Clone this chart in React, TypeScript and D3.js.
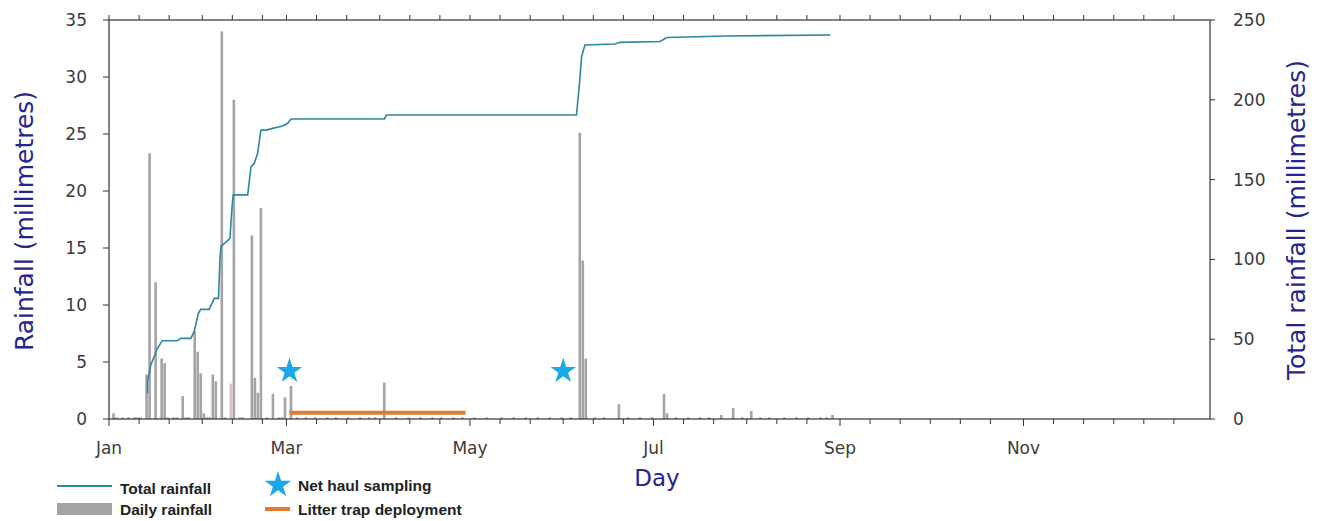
import React from "react";
import * as d3 from "d3";

const W = 1322;
const H = 521;

// Daily rainfall (day of year, mm)
const dailyDays = [1, 12, 13, 15, 17, 18, 24, 28, 29, 30, 31, 34, 35, 37, 41, 47, 48, 49, 50, 54, 58, 60, 91, 156, 157, 158, 169, 184, 185, 203, 207, 213, 240];
const dailyValues = [0.5, 3.9, 23.3, 12.0, 5.3, 4.9, 2.0, 7.7, 5.9, 4.0, 0.5, 3.9, 3.3, 34.0, 28.0, 16.1, 3.6, 2.3, 18.5, 2.2, 1.9, 2.9, 3.2, 25.1, 13.9, 5.3, 1.3, 2.2, 0.5, 0.35, 0.96, 0.7, 0.35];

// Trace rainfall visible along the baseline
const traceDays = [2, 4, 6, 8, 9, 10, 19, 21, 22, 25, 26, 32, 33, 38, 43, 44, 52, 56, 57, 62, 65, 68, 72, 75, 79, 83, 86, 88, 95, 99, 103, 107, 110, 114, 117, 121, 125, 130, 134, 138, 142, 146, 150, 153, 161, 164, 172, 176, 180, 188, 192, 196, 199, 210, 216, 219, 224, 228, 232, 236, 238];
const traceValues = traceDays.map(() => 0.15);

// Odd pink bar
const pinkDays = [40];
const pinkValues = [3.1];

// Cumulative (total) rainfall
const cumulativeDays = [12.8, 12.8, 13.9, 15, 16.1, 17.7, 22.7, 23.9, 27.2, 28.3, 29.7, 30.5, 33.3, 35, 36.4, 36.9, 37.2, 40.2, 40.9, 41.3, 46.1, 47.2, 48.3, 49.4, 50.5, 52.2, 54.4, 57.7, 59.4, 60.5, 91.6, 92.2, 155.4, 156.3, 157.1, 158.2, 168.2, 169.8, 183.2, 185.4, 205.4, 239.8];
const cumulativeValues = [16.1, 23.4, 33.8, 39, 44.3, 49, 49, 50.5, 50.5, 54.7, 66.2, 68.7, 68.7, 75.6, 75.6, 100.7, 108, 113.2, 133, 140.4, 140.4, 158, 160.2, 166.5, 181, 181, 182.1, 183.6, 185.3, 188, 188, 190.5, 190.5, 208, 227, 234.3, 235, 236, 236.5, 239, 240, 240.6];

// Events
const samplingDays = [60, 151];
const samplingLevel = 4.2;
const trapDays = [60, 118.5];
const trapLevel = 0.55;

const monthStarts = [0, 31, 59, 90, 120, 151, 181, 212, 243, 273, 304, 334];
const monthNames = ["Jan", "Feb", "Mar", "Apr", "May", "Jun", "Jul", "Aug", "Sep", "Oct", "Nov", "Dec"];
const leftTicks = [0, 5, 10, 15, 20, 25, 30, 35];
const rightTicks = [0, 50, 100, 150, 200, 250];

const L = 109, R = 1210, T = 20, B = 419;

const NAVY = "#25258f";
const TICKC = "#3c3c3c";
const BAR = "#a4a4a4";
const LINE = "#2c87a0";
const STAR = "#1aa8e6";
const ORANGE = "#e07b30";

export default function App() {
  const x = d3.scaleLinear().domain([0, 366]).range([L, R]);
  const yL = d3.scaleLinear().domain([0, 35]).range([B, T]);
  const yR = d3.scaleLinear().domain([0, 250]).range([B, T]);

  const minorTicks: number[] = [];
  monthStarts.forEach((s) => {
    minorTicks.push(s + 10, s + 20);
  });

  const cumPts = cumulativeDays.map((d, i) => [x(d), yR(cumulativeValues[i])] as [number, number]);
  const linePath = d3.line()(cumPts) || "";
  const star = d3.symbol().type(d3.symbolStar).size(200)() || "";
  const starLegend = d3.symbol().type(d3.symbolStar).size(220)() || "";
  const barW = 2.6;
  const font = "DejaVu Sans, Verdana, sans-serif";
  const legendFont = "Liberation Sans, Arial, sans-serif";

  return (
    <svg width={W} height={H} style={{ position: "absolute", left: 0, top: 0, background: "#fff" }}>
      <rect x={0} y={0} width={W} height={H} fill="#fff" />
      {traceDays.map((d, i) => (
        <rect key={"t" + i} x={x(d + 0.5) - barW / 2} y={yL(traceValues[i])} width={barW} height={B - yL(traceValues[i])} fill={BAR} />
      ))}
      {dailyDays.map((d, i) => (
        <rect key={"b" + i} x={x(d + 0.5) - barW / 2} y={yL(dailyValues[i])} width={barW} height={B - yL(dailyValues[i])} fill={BAR} />
      ))}
      {pinkDays.map((d, i) => (
        <rect key={"p" + i} x={x(d + 0.5) - barW / 2} y={yL(pinkValues[i])} width={barW} height={B - yL(pinkValues[i])} fill="#e6b9c6" />
      ))}
      <line x1={x(trapDays[0])} x2={x(trapDays[1])} y1={yL(trapLevel)} y2={yL(trapLevel)} stroke={ORANGE} strokeWidth={4} />
      <path d={linePath} fill="none" stroke={LINE} strokeWidth={1.6} />
      {samplingDays.map((d, i) => (
        <path key={"s" + i} d={star} transform={`translate(${x(d)},${yL(samplingLevel)})`} fill={STAR} />
      ))}
      <rect x={L} y={T} width={R - L} height={B - T} fill="none" stroke="#333" strokeWidth={1.2} />
      {monthStarts.map((d, i) => (
        <g key={"m" + i}>
          <line x1={x(d)} x2={x(d)} y1={B} y2={B + (i % 2 === 0 ? 7 : 5)} stroke="#333" />
          <line x1={x(d)} x2={x(d)} y1={T} y2={T - 5} stroke="#333" />
          {i % 2 === 0 && (
            <text x={x(d)} y={454} textAnchor="middle" fontFamily={font} fontSize={17} fill={TICKC}>{monthNames[i]}</text>
          )}
        </g>
      ))}
      {minorTicks.map((d, i) => (
        <g key={"mn" + i}>
          <line x1={x(d)} x2={x(d)} y1={B} y2={B + 5} stroke="#333" />
          <line x1={x(d)} x2={x(d)} y1={T} y2={T - 5} stroke="#333" />
        </g>
      ))}
      {leftTicks.map((v) => (
        <g key={"l" + v}>
          <line x1={L - 6} x2={L} y1={yL(v)} y2={yL(v)} stroke="#333" />
          <text x={87} y={yL(v)} dy="0.35em" textAnchor="end" fontFamily={font} fontSize={17} fill={TICKC}>{v}</text>
        </g>
      ))}
      {rightTicks.map((v) => (
        <g key={"r" + v}>
          <line x1={R} x2={R + 5} y1={yR(v)} y2={yR(v)} stroke="#333" />
          <text x={1233} y={yR(v)} dy="0.35em" textAnchor="start" fontFamily={font} fontSize={17} fill={TICKC}>{v}</text>
        </g>
      ))}
      <text transform={`translate(33,221) rotate(-90)`} textAnchor="middle" fontFamily={font} fontSize={25} fill={NAVY}>Rainfall (millimetres)</text>
      <text transform={`translate(1305,220) rotate(-90)`} textAnchor="middle" fontFamily={font} fontSize={25} fill={NAVY}>Total rainfall (millimetres)</text>
      <text x={657} y={486} textAnchor="middle" fontFamily={font} fontSize={23} fill={NAVY}>Day</text>
      <line x1={57} x2={112} y1={486} y2={486} stroke={LINE} strokeWidth={2} />
      <text x={120} y={493.5} fontFamily={legendFont} fontWeight="bold" fontSize={15.5} fill="#222">Total rainfall</text>
      <rect x={57} y={503} width={55} height={12} fill={BAR} />
      <text x={120} y={514.5} fontFamily={legendFont} fontWeight="bold" fontSize={15.5} fill="#222">Daily rainfall</text>
      <path d={starLegend} transform="translate(278,485)" fill={STAR} />
      <text x={298} y={490.5} fontFamily={legendFont} fontWeight="bold" fontSize={15.5} fill="#222">Net haul sampling</text>
      <line x1={265} x2={290} y1={509} y2={509} stroke={ORANGE} strokeWidth={4} />
      <text x={298} y={514.5} fontFamily={legendFont} fontWeight="bold" fontSize={15.5} fill="#222">Litter trap deployment</text>
    </svg>
  );
}
